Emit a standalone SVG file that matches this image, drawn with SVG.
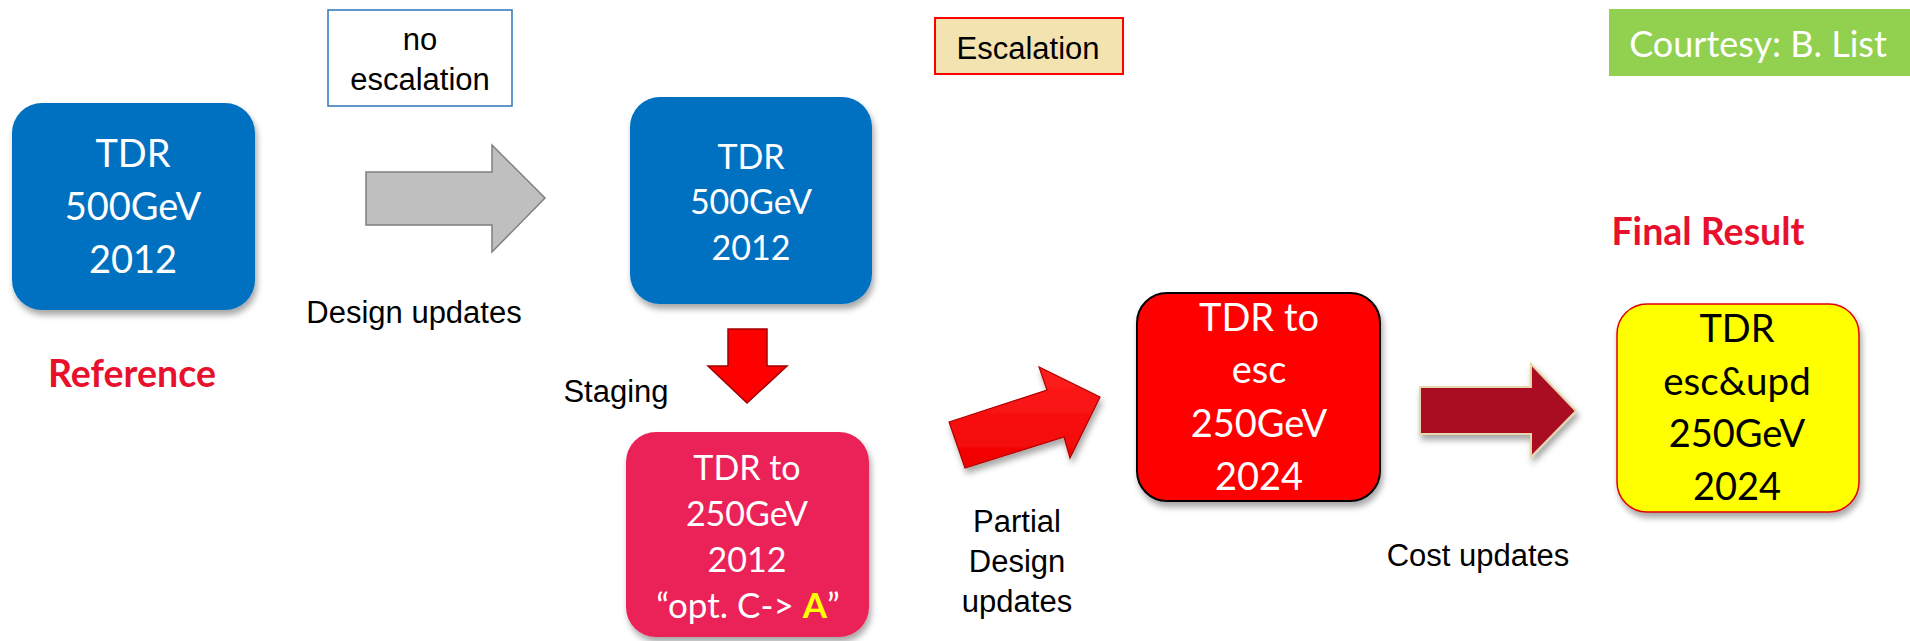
<svg xmlns="http://www.w3.org/2000/svg" width="1910" height="641" viewBox="0 0 1910 641">
<style>
.cal{font-family:Lato,"Open Sans",sans-serif;text-anchor:middle}
.ar{font-family:"Liberation Sans",Arial,sans-serif;font-size:31px;fill:#000;text-anchor:middle}
.w{fill:#fff}
.k{fill:#000}
.title{font-family:Lato,"Open Sans",sans-serif;font-weight:bold;font-size:37.5px;fill:#E8112D;text-anchor:middle}
</style>
<defs>
<filter id="sh" x="-10%" y="-10%" width="130%" height="130%">
<feDropShadow dx="2" dy="5" stdDeviation="3" flood-color="#000" flood-opacity="0.35"/>
</filter>
<linearGradient id="rg" x1="0" y1="0" x2="0" y2="1">
<stop offset="0" stop-color="#FF2020"/>
<stop offset="1" stop-color="#F00000"/>
</linearGradient>
</defs>

<g id="connectors">
<path id="arrow-design" d="M366,172 H492 V145 L545,198 L492,252 V225 H366 Z" fill="#BFBFBF" stroke="#7F7F7F" stroke-width="1.5"/>
<path id="arrow-staging" d="M728,329 H767 V366 H787 L747,403 L708,366 H728 Z" fill="#FF0000" stroke="#A00000" stroke-width="1.5"/>
<path id="arrow-partial" d="M949,422 L1047,390 L1039,367 L1100,397 L1070,458 L1064,437 L965,468 Z" fill="url(#rg)" stroke="#B00000" stroke-width="1.2" filter="url(#sh)"/>
<path id="arrow-cost" d="M1420,387 H1531 V364 L1576,411 L1531,457 V434 H1420 Z" fill="#AA0F24" stroke="#E6D6AE" stroke-width="2" filter="url(#sh)"/>
</g>

<g id="no-escalation">
<rect x="328" y="10" width="184" height="96" fill="#fff" stroke="#2E75B6" stroke-width="1.5"/>
<text class="ar" x="420" y="50" font-size="32.5">no</text>
<text class="ar" x="420" y="90" font-size="32.5">escalation</text>
</g>

<g id="escalation">
<rect x="935" y="18" width="188" height="56" fill="#F3E3B1" stroke="#FF0000" stroke-width="2"/>
<text class="ar" x="1028" y="59" font-size="32">Escalation</text>
</g>

<g id="courtesy">
<rect x="1609" y="9" width="301" height="67" fill="#92D050"/>
<text class="cal w" x="1758" y="57" font-size="36">Courtesy: B. List</text>
</g>

<g id="tdr-500-ref">
<rect x="12" y="103" width="243" height="207" rx="30" fill="#0070C0" filter="url(#sh)"/>
<text class="cal w" x="133" y="167" font-size="38">TDR</text>
<text class="cal w" x="133" y="220" font-size="38">500GeV</text>
<text class="cal w" x="133" y="273" font-size="38">2012</text>
</g>
<text id="label-reference" class="title" x="132" y="387">Reference</text>

<g id="label-design">
<text class="ar" x="414" y="323" font-size="30">Design updates</text>
</g>

<g id="tdr-500">
<rect x="630" y="97" width="242" height="207" rx="30" fill="#0070C0" filter="url(#sh)"/>
<text class="cal w" x="751" y="169" font-size="34">TDR</text>
<text class="cal w" x="751" y="214" font-size="34">500GeV</text>
<text class="cal w" x="751" y="260" font-size="34">2012</text>
</g>

<text id="label-staging" class="ar" x="616" y="402" font-size="32">Staging</text>

<g id="tdr-250-2012">
<rect x="626" y="432" width="243" height="205" rx="30" fill="#EB2459" filter="url(#sh)"/>
<text class="cal w" x="747" y="480" font-size="34">TDR to</text>
<text class="cal w" x="747" y="526" font-size="34">250GeV</text>
<text class="cal w" x="747" y="572" font-size="34">2012</text>
<text class="cal w" x="748" y="618" font-size="35">“opt. C-&gt; <tspan fill="#FFFF00" font-weight="bold">A</tspan>”</text>
</g>

<g id="label-partial">
<text class="ar" x="1017" y="532" font-size="32.5">Partial</text>
<text class="ar" x="1017" y="572" font-size="32.5">Design</text>
<text class="ar" x="1017" y="612" font-size="32.5">updates</text>
</g>

<g id="tdr-esc">
<rect x="1137" y="293" width="243" height="208" rx="30" fill="#FF0000" stroke="#000" stroke-width="2" filter="url(#sh)"/>
<text class="cal w" x="1259" y="331" font-size="38">TDR to</text>
<text class="cal w" x="1259" y="383" font-size="38">esc</text>
<text class="cal w" x="1259" y="437" font-size="38">250GeV</text>
<text class="cal w" x="1259" y="490" font-size="38">2024</text>
</g>

<text id="label-cost" class="ar" x="1478" y="566" font-size="32">Cost updates</text>

<text id="label-final" class="title" x="1708" y="245">Final Result</text>

<g id="tdr-final">
<rect x="1617" y="304" width="242" height="208" rx="30" fill="#FFFF00" stroke="#E00000" stroke-width="1.5" filter="url(#sh)"/>
<text class="cal k" x="1737" y="342" font-size="38">TDR</text>
<text class="cal k" x="1737" y="395" font-size="38.5">esc&amp;upd</text>
<text class="cal k" x="1737" y="447" font-size="38">250GeV</text>
<text class="cal k" x="1737" y="500" font-size="38">2024</text>
</g>
</svg>
